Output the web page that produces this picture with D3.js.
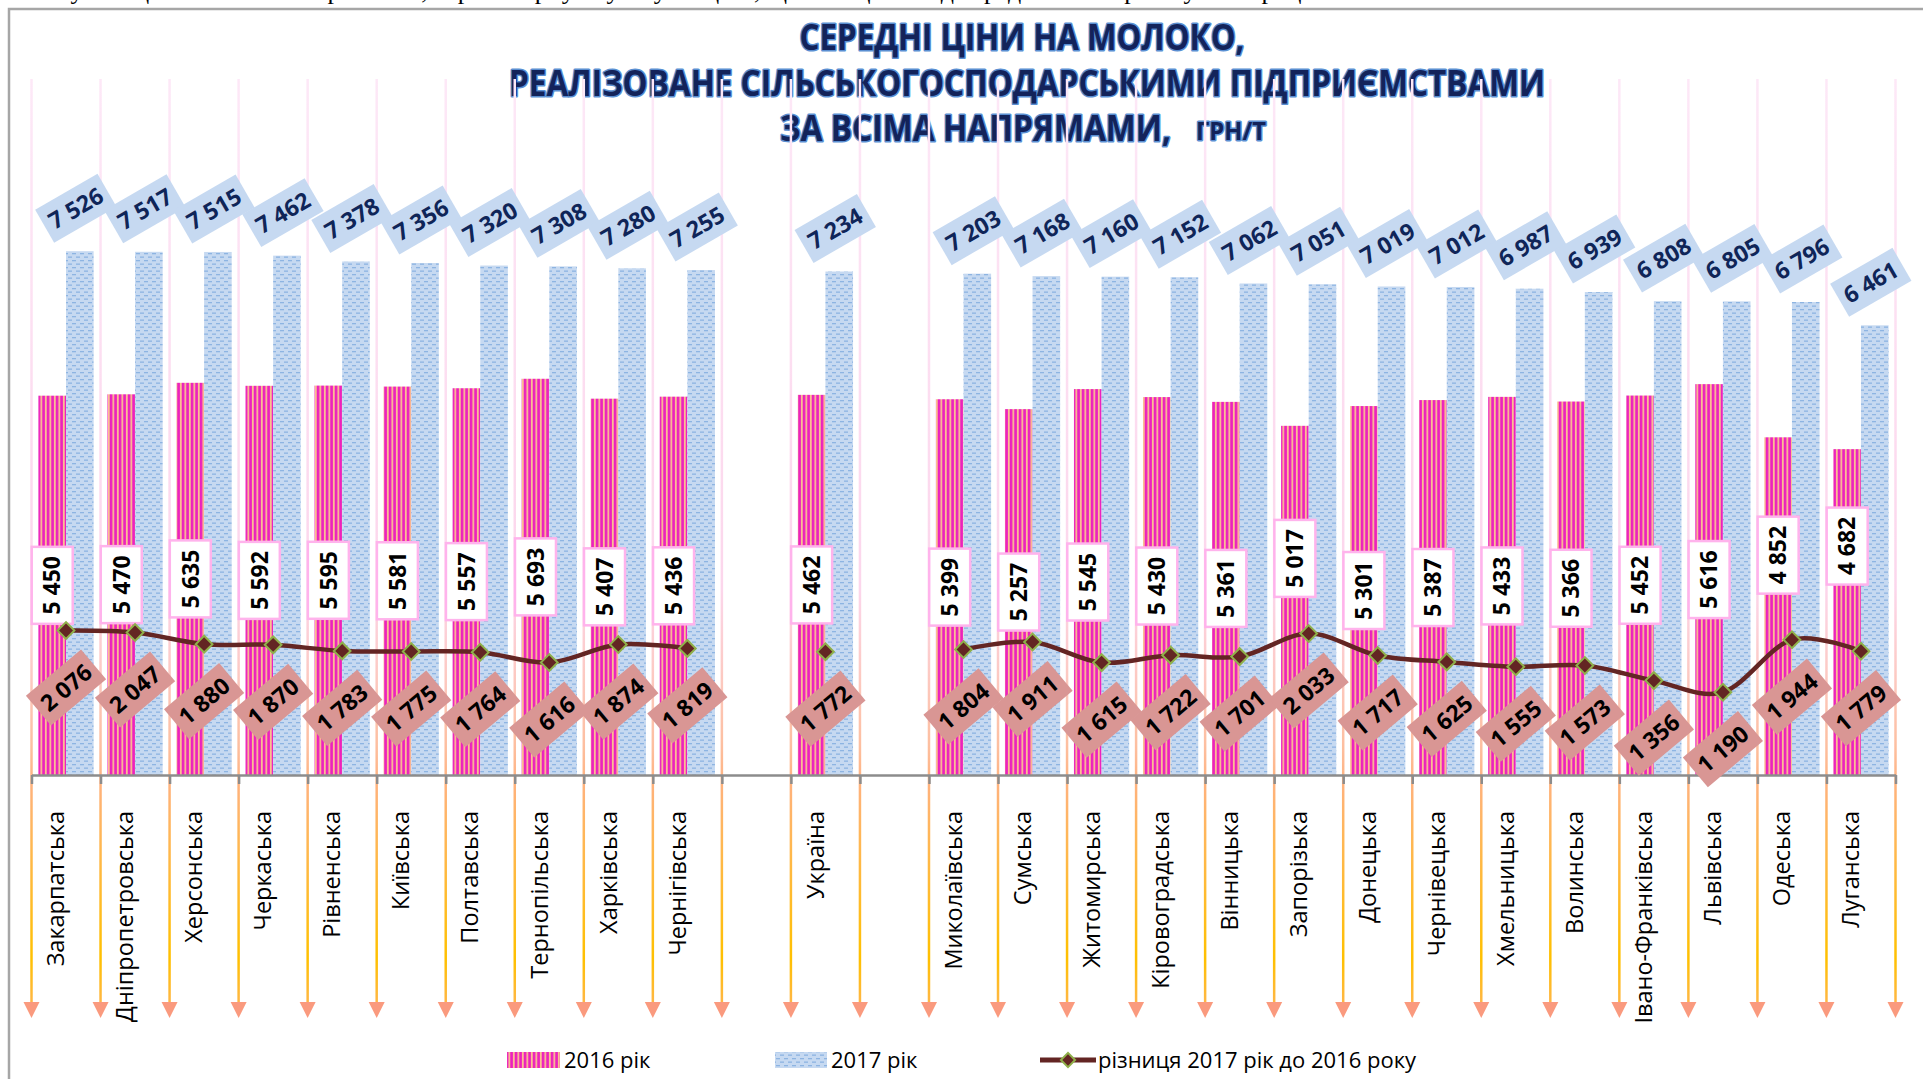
<!DOCTYPE html>
<html lang="uk">
<head>
<meta charset="utf-8">
<title>Середні ціни на молоко</title>
<script src="https://cdn.jsdelivr.net/npm/d3@7"></script>
<style>
  html, body { margin: 0; padding: 0; background: #fff; }
  svg { display: block; }
</style>
</head>
<body>
<script>
const width = 1923;
const height = 1079;

// empty strings are the gaps around "Україна"
const regions = ["Закарпатська", "Дніпропетровська", "Херсонська", "Черкаська", "Рівненська", "Київська",
  "Полтавська", "Тернопільська", "Харківська", "Чернігівська", "", "Україна", "",
  "Миколаївська", "Сумська", "Житомирська", "Кіровоградська", "Вінницька", "Запорізька", "Донецька",
  "Чернівецька", "Хмельницька", "Волинська", "Івано-Франківська", "Львівська", "Одеська", "Луганська"];
const price2016 = [5450, 5470, 5635, 5592, 5595, 5581, 5557, 5693, 5407, 5436, null, 5462, null,
  5399, 5257, 5545, 5430, 5361, 5017, 5301, 5387, 5433, 5366, 5452, 5616, 4852, 4682];
const price2017 = [7526, 7517, 7515, 7462, 7378, 7356, 7320, 7308, 7280, 7255, null, 7234, null,
  7203, 7168, 7160, 7152, 7062, 7051, 7019, 7012, 6987, 6939, 6808, 6805, 6796, 6461];
const diff = [2076, 2047, 1880, 1870, 1783, 1775, 1764, 1616, 1874, 1819, null, 1772, null,
  1804, 1911, 1615, 1722, 1701, 2033, 1717, 1625, 1555, 1573, 1356, 1190, 1944, 1779];
const seriesNames = ["2016 рік", "2017 рік", "різниця 2017 рік до 2016 року"];
const titleLines = ["СЕРЕДНІ ЦІНИ НА МОЛОКО,", "РЕАЛІЗОВАНЕ СІЛЬСЬКОГОСПОДАРСЬКИМИ ПІДПРИЄМСТВАМИ", "ЗА ВСІМА НАПРЯМАМИ,"];
const titleUnit = "ГРН/Т";
const pageText = "Аналізуючи ціни на молоко в регіонах, варто звернути увагу на ціни, що є вищими від середніх по Україні у 2017 році";

// labels moved by hand in the original so they don't sit on the line
const label2016Shift = { 18: -42, 25: -51, 26: -66 };

const fmt = d3.formatLocale({ decimal: ",", thousands: "\u00a0", grouping: [3], currency: ["", ""] }).format(",d");
const font = "'Open Sans', 'DejaVu Sans', sans-serif";

const rows = regions.map((name, i) => ({ i, name, p16: price2016[i], p17: price2017[i], d: diff[i] }));
const filled = rows.filter(r => r.p16 != null);

const svg = d3.select("body").append("svg")
  .attr("width", width)
  .attr("height", height)
  .style("font-family", font);

const x = d3.scaleBand()
  .domain(d3.range(regions.length))
  .range([31.5, 1895.5]);
const xSub = d3.scaleBand()
  .domain(["2016", "2017"])
  .range([0, x.bandwidth()])
  .paddingOuter(0.25);
const xEdge = d3.scaleLinear()
  .domain([0, regions.length])
  .range(x.range());
const y = d3.scaleLinear()
  .domain([0, 10000])
  .range([775, 79]);

const defs = svg.append("defs");

const p16 = defs.append("pattern")
  .attr("id", "stripes2016")
  .attr("patternUnits", "userSpaceOnUse")
  .attr("width", 4.5)
  .attr("height", 10);
p16.append("rect").attr("width", 4.5).attr("height", 10).attr("fill", "#FAC090");
p16.append("rect").attr("x", 1.7).attr("width", 2.7).attr("height", 10).attr("fill", "#EC22BE");

const p17 = defs.append("pattern")
  .attr("id", "dash2017")
  .attr("patternUnits", "userSpaceOnUse")
  .attr("width", 8)
  .attr("height", 7);
p17.append("rect").attr("width", 8).attr("height", 7).attr("fill", "#C6D9F1");
p17.append("rect").attr("x", 0).attr("y", 1).attr("width", 4).attr("height", 1.3).attr("fill", "#8DB4E2");
p17.append("rect").attr("x", 4).attr("y", 4.5).attr("width", 4).attr("height", 1.3).attr("fill", "#8DB4E2");

const grad = defs.append("linearGradient")
  .attr("id", "gridGrad")
  .attr("gradientUnits", "userSpaceOnUse")
  .attr("x1", 0).attr("x2", 0)
  .attr("y1", y(10000)).attr("y2", 1005);
[[0, "#FDE8F7"], [0.55, "#FCD6EC"], [0.72, "#FDBFA0"], [0.76, "#FFB27E"], [0.95, "#FFC000"], [1, "#FFB64A"]]
  .forEach(s => grad.append("stop").attr("offset", s[0]).attr("stop-color", s[1]));

// page text cut by the frame, and the frame itself
svg.append("text")
  .attr("x", -4)
  .attr("y", -1)
  .style("font-family", "'Liberation Serif', serif")
  .style("font-size", "26px")
  .text(pageText);
svg.append("rect")
  .attr("x", 9)
  .attr("y", 9)
  .attr("width", width + 20)
  .attr("height", height + 20)
  .attr("fill", "#fff")
  .attr("stroke", "#A6A6A6")
  .attr("stroke-width", 2.5);

// title
const title = svg.append("g")
  .style("font-weight", 700)
  .attr("fill", "#13235A")
  .attr("stroke", "#5A8FD2")
  .attr("stroke-width", 3)
  .attr("paint-order", "stroke")
  .attr("stroke-linejoin", "round");
title.append("text").attr("x", 1022).attr("y", 50).attr("text-anchor", "middle")
  .style("font-size", "36px").attr("textLength", 445).attr("lengthAdjust", "spacingAndGlyphs").text(titleLines[0]);
title.append("text").attr("x", 1027).attr("y", 96).attr("text-anchor", "middle")
  .style("font-size", "36px").attr("textLength", 1036).attr("lengthAdjust", "spacingAndGlyphs").text(titleLines[1]);
title.append("text").attr("x", 780).attr("y", 141)
  .style("font-size", "36px").attr("textLength", 391).attr("lengthAdjust", "spacingAndGlyphs").text(titleLines[2]);
title.append("text").attr("x", 1196).attr("y", 140)
  .style("font-size", "25px").attr("textLength", 70).attr("lengthAdjust", "spacingAndGlyphs").text(titleUnit);

// category separators running down to arrows
const edges = d3.range(regions.length + 1);
svg.append("g").selectAll("line")
  .data(edges)
  .enter()
  .append("line")
  .attr("x1", d => xEdge(d)).attr("x2", d => xEdge(d))
  .attr("y1", y(10000)).attr("y2", 1004)
  .attr("stroke", "url(#gridGrad)")
  .attr("stroke-width", 2.5);
svg.append("g").selectAll("path")
  .data(edges)
  .enter()
  .append("path")
  .attr("d", d => `M${xEdge(d) - 8},1002L${xEdge(d) + 8},1002L${xEdge(d)},1018Z`)
  .attr("fill", "#FA9A7E");

// bars
svg.append("g").selectAll("rect")
  .data(filled)
  .enter()
  .append("rect")
  .attr("x", d => x(d.i) + xSub("2016"))
  .attr("y", d => y(d.p16))
  .attr("width", xSub.bandwidth())
  .attr("height", d => y(0) - y(d.p16))
  .attr("fill", "url(#stripes2016)");
svg.append("g").selectAll("rect")
  .data(filled)
  .enter()
  .append("rect")
  .attr("x", d => x(d.i) + xSub("2017"))
  .attr("y", d => y(d.p17))
  .attr("width", xSub.bandwidth())
  .attr("height", d => y(0) - y(d.p17))
  .attr("fill", "url(#dash2017)");

// axis
const axis = svg.append("g")
  .attr("transform", `translate(0,${y(0)})`)
  .call(d3.axisBottom(xEdge).tickValues(edges).tickSize(9).tickSizeOuter(0).tickFormat(""));
axis.selectAll("path, line").attr("stroke", "#8C8C8C").attr("stroke-width", 2.5);

// category names
svg.append("g").selectAll("text")
  .data(rows.filter(r => r.name))
  .enter()
  .append("text")
  .attr("transform", d => `translate(${x(d.i) + x.bandwidth() / 2 - 10},811) rotate(-90)`)
  .attr("text-anchor", "end")
  .attr("dy", "0.35em")
  .style("font-size", "23.5px")
  .text(d => d.name);

// 2016 value labels
const lab16 = svg.append("g").selectAll("g")
  .data(filled)
  .enter()
  .append("g")
  .attr("transform", d => `translate(${x(d.i) + xSub("2016") + xSub.bandwidth() / 2},${(y(d.p16) + y(0)) / 2 + (label2016Shift[d.i] || 0)})`);
lab16.append("rect")
  .attr("x", -20.5).attr("y", -38.5)
  .attr("width", 41).attr("height", 77)
  .attr("fill", "#fff")
  .attr("stroke", "#FFB3EC")
  .attr("stroke-width", 2.5);
lab16.append("text")
  .attr("transform", "rotate(-90)")
  .attr("text-anchor", "middle")
  .attr("dy", "0.36em")
  .style("font-size", "23px")
  .style("font-weight", 700)
  .text(d => fmt(d.p16));

// difference line
const line = d3.line()
  .defined(d => d.d != null)
  .x(d => x(d.i) + x.bandwidth() / 2)
  .y(d => y(d.d))
  .curve(d3.curveCardinal.tension(0));
svg.append("path")
  .datum(rows)
  .attr("d", line)
  .attr("fill", "none")
  .attr("stroke", "#632523")
  .attr("stroke-width", 4.5);
svg.append("g").selectAll("path")
  .data(filled)
  .enter()
  .append("path")
  .attr("d", d3.symbol(d3.symbolSquare, 140))
  .attr("transform", d => `translate(${x(d.i) + x.bandwidth() / 2},${y(d.d)}) rotate(45)`)
  .attr("fill", "#632523")
  .attr("stroke", "#8FB04A")
  .attr("stroke-width", 2);

// difference labels
const labD = svg.append("g").selectAll("g")
  .data(filled)
  .enter()
  .append("g")
  .attr("transform", d => `translate(${x(d.i) + x.bandwidth() / 2},${y(d.d) + 57}) rotate(-40)`);
labD.append("rect")
  .attr("x", -36).attr("y", -19.5)
  .attr("width", 72).attr("height", 39)
  .attr("fill", "#D99694");
labD.append("text")
  .attr("text-anchor", "middle")
  .attr("dy", "0.36em")
  .style("font-size", "23px")
  .style("font-weight", 700)
  .text(d => fmt(d.d));

// 2017 value labels
const lab17 = svg.append("g").selectAll("g")
  .data(filled)
  .enter()
  .append("g")
  .attr("transform", d => `translate(${x(d.i) + xSub("2017") + xSub.bandwidth() / 2 - 4},${y(d.p17) - 43}) rotate(-30)`);
lab17.append("rect")
  .attr("x", -36).attr("y", -19)
  .attr("width", 72).attr("height", 38)
  .attr("fill", "#C6D9F1");
lab17.append("text")
  .attr("text-anchor", "middle")
  .attr("dy", "0.36em")
  .attr("fill", "#0F2558")
  .style("font-size", "23px")
  .style("font-weight", 700)
  .text(d => fmt(d.p17));

// legend
const legend = svg.append("g").style("font-size", "22px");
legend.append("rect").attr("x", 507).attr("y", 1052).attr("width", 53).attr("height", 16).attr("fill", "url(#stripes2016)");
legend.append("text").attr("x", 564).attr("y", 1068).text(seriesNames[0]);
legend.append("rect").attr("x", 775).attr("y", 1052).attr("width", 52).attr("height", 16).attr("fill", "url(#dash2017)");
legend.append("text").attr("x", 831).attr("y", 1068).text(seriesNames[1]);
legend.append("line").attr("x1", 1040).attr("x2", 1096).attr("y1", 1060).attr("y2", 1060)
  .attr("stroke", "#632523").attr("stroke-width", 5);
legend.append("path")
  .attr("d", d3.symbol(d3.symbolSquare, 100))
  .attr("transform", "translate(1068,1060) rotate(45)")
  .attr("fill", "#632523")
  .attr("stroke", "#8FB04A")
  .attr("stroke-width", 2);
legend.append("text").attr("x", 1098).attr("y", 1068).text(seriesNames[2]);
</script>
</body>
</html>
